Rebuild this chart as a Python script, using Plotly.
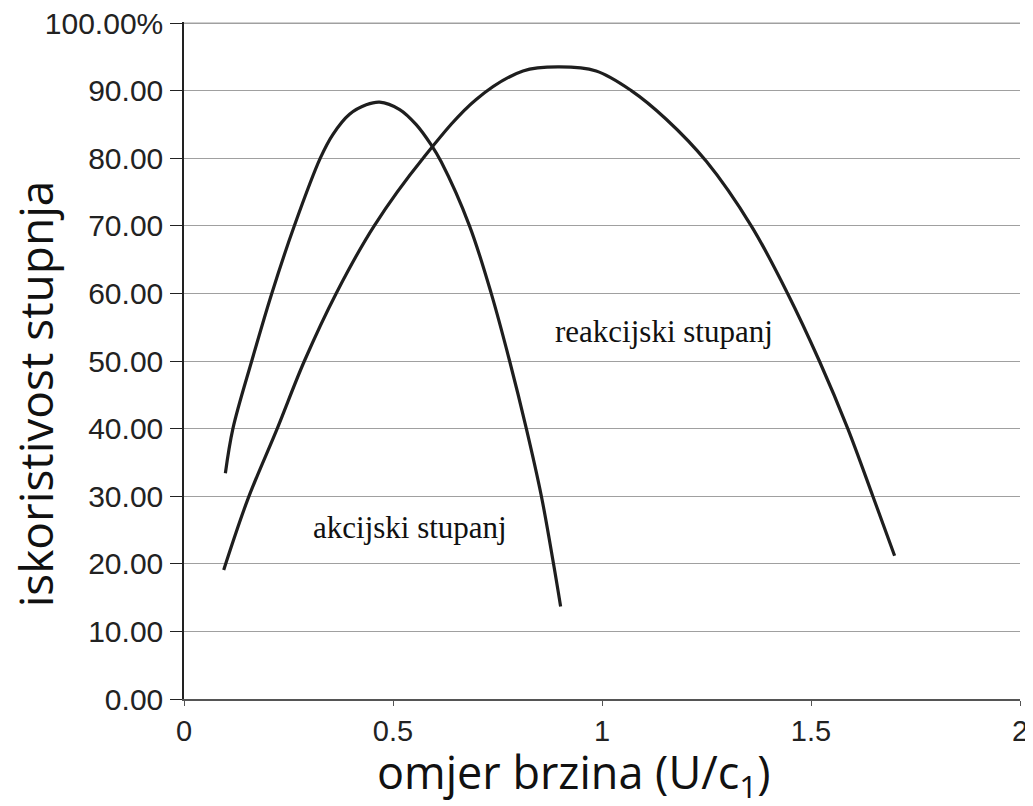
import plotly.graph_objects as go

# Akcijski stupanj (impulse stage)
akc_x = [0.099, 0.117, 0.162, 0.21, 0.264, 0.326, 0.356, 0.396, 0.436, 0.468, 0.516, 0.555, 0.591, 0.615, 0.683, 0.735, 0.779, 0.819, 0.855, 0.884, 0.901]
akc_y = [33.4, 40.0, 50.0, 60.0, 70.0, 80.0, 83.5, 86.5, 87.9, 88.3, 87.2, 85.0, 82.0, 79.5, 70.0, 60.0, 50.0, 40.0, 30.0, 20.0, 13.7]

# Reakcijski stupanj (reaction stage)
rea_x = [0.095, 0.153, 0.223, 0.288, 0.364, 0.455, 0.572, 0.699, 0.811, 0.898, 0.986, 1.070, 1.153, 1.250, 1.357, 1.444, 1.52, 1.588, 1.648, 1.70]
rea_y = [19.1, 29.6, 40.0, 50.0, 60.0, 70.0, 80.0, 88.7, 92.9, 93.5, 92.9, 90.0, 85.8, 79.5, 70.0, 60.0, 50.0, 40.0, 30.0, 21.2]

y_ticks = [0, 10, 20, 30, 40, 50, 60, 70, 80, 90, 100]
y_labels = ["0.00", "10.00", "20.00", "30.00", "40.00", "50.00", "60.00", "70.00", "80.00", "90.00", "100.00%"]
x_ticks = [0, 0.5, 1, 1.5, 2]
x_labels = ["0", "0.5", "1", "1.5", "2"]

grid_color = "#a0a0a0"

fig = go.Figure()
line_style = dict(color="#1e1e1e", width=3.2, shape="spline", smoothing=1.0)
fig.add_trace(go.Scatter(x=akc_x, y=akc_y, mode="lines", line=line_style, name="akcijski stupanj", showlegend=False))
fig.add_trace(go.Scatter(x=rea_x, y=rea_y, mode="lines", line=line_style, name="reakcijski stupanj", showlegend=False))

# top gridline (at the edge of the plot area, where plotly skips the grid)
fig.add_hline(y=y_ticks[-1], line_color=grid_color, line_width=1, layer="below")

# the page body adds an 8px offset, so the figure is sized to compensate
fig.update_layout(
    width=1025, height=798,
    margin=dict(l=176, r=13, t=14, b=107),
    plot_bgcolor="white", paper_bgcolor="white",
    showlegend=False,
    xaxis=dict(
        range=[0, 2], tickvals=x_ticks, ticktext=x_labels,
        showgrid=False, zeroline=False, automargin=False,
        showline=True, linecolor="#555555", linewidth=1.5,
        ticks="outside", ticklen=5, tickcolor="#555555", tickwidth=1.2,
        ticklabeloverflow="allow",
        tickfont=dict(family="Liberation Sans", size=29, color="#222222"),
    ),
    yaxis=dict(
        range=[0, 100.15], tickvals=y_ticks, ticktext=y_labels,
        showgrid=True, gridcolor=grid_color, gridwidth=1,
        zeroline=False, automargin=False,
        showline=True, linecolor="#222222", linewidth=1.5,
        ticks="outside", ticklen=12, tickcolor="#222222", tickwidth=1.2,
        ticklabelstandoff=1, ticklabeloverflow="allow",
        tickfont=dict(family="Liberation Sans", size=30, color="#222222"),
    ),
    annotations=[
        dict(text="iskoristivost stupnja", x=0.0, xref="paper", xanchor="center", xshift=-149,
             y=0.45, yref="paper", yanchor="middle", textangle=-90, showarrow=False,
             font=dict(family="Open Sans", size=46, color="#111111")),
        dict(text="omjer brzina (U/c<sub>1</sub>)", x=0.934, xref="x", xanchor="center",
             y=0.0, yref="paper", yanchor="middle", yshift=-75, showarrow=False,
             font=dict(family="Open Sans", size=45, color="#111111")),
        dict(text="akcijski stupanj", x=0.541, y=25.3, xref="x", yref="y", showarrow=False,
             font=dict(family="Liberation Serif", size=31, color="#111111")),
        dict(text="reakcijski stupanj", x=1.148, y=54.4, xref="x", yref="y", showarrow=False,
             font=dict(family="Liberation Serif", size=31, color="#111111")),
    ],
)

fig.write_html("out.html")
